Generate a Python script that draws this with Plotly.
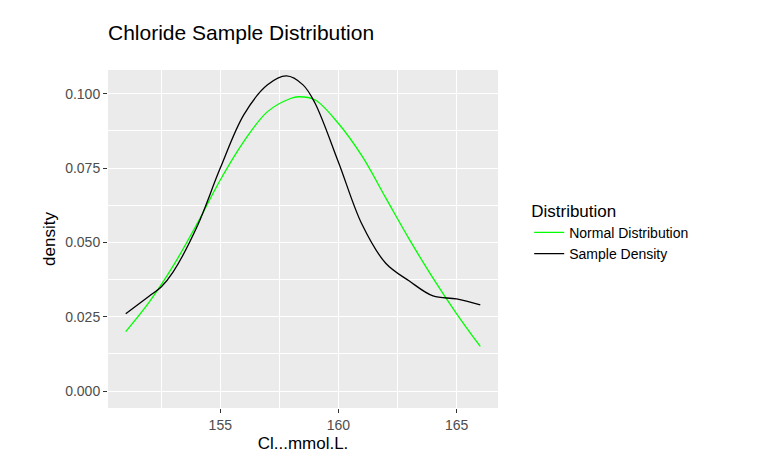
import plotly.graph_objects as go

norm_x = [151, 152, 153, 154, 155, 156, 157, 158, 158.3, 159, 160, 161, 162, 163, 164, 165, 166]
norm_y = [0.020, 0.030, 0.042, 0.056, 0.071, 0.084, 0.094, 0.0985, 0.099, 0.098, 0.090, 0.079, 0.065, 0.051, 0.038, 0.026, 0.015]

samp_x = [151, 152, 152.5, 153, 154, 155, 156, 157, 157.8, 158.5, 159, 160, 161, 162, 163, 164, 165, 166]
samp_y = [0.026, 0.032, 0.035, 0.040, 0.055, 0.075, 0.093, 0.103, 0.106, 0.103, 0.097, 0.077, 0.056, 0.043, 0.037, 0.032, 0.031, 0.029]

fig = go.Figure()
fig.add_trace(go.Scatter(x=norm_x, y=norm_y, mode="lines", name="Normal Distribution",
                         line=dict(color="#00FF00", width=1.3, shape="spline")))
fig.add_trace(go.Scatter(x=samp_x, y=samp_y, mode="lines", name="Sample Density",
                         line=dict(color="black", width=1.3, shape="spline")))

fig.update_layout(
    width=760, height=470,
    margin=dict(l=100, r=270, t=62, b=70, autoexpand=False),
    paper_bgcolor="white", plot_bgcolor="#EBEBEB",
    font=dict(family="Liberation Sans, Arial", color="#4D4D4D", size=14),
    title=dict(text="Chloride Sample Distribution", x=100/760, xanchor="left",
               y=1 - 25/470, yanchor="middle", font=dict(size=21, color="black")),
    legend=dict(title=dict(text="Distribution", font=dict(size=17, color="black")),
                x=1.08, xanchor="left", y=0.52, yanchor="middle",
                font=dict(size=14, color="black"), bgcolor="white"),
    xaxis=dict(range=[150.25, 166.75], tickvals=[155, 160, 165], showgrid=True,
               gridcolor="white", gridwidth=1.3, zeroline=False, automargin=False,
               ticks="outside", ticklen=4, tickcolor="#333333",
               minor=dict(tickvals=[152.5, 157.5, 162.5], showgrid=True, gridcolor="white", gridwidth=0.6),
               title=dict(text="Cl...mmol.L.", font=dict(size=17, color="black"), standoff=5)),
    yaxis=dict(range=[-0.0057, 0.108], tickvals=[0, 0.025, 0.05, 0.075, 0.1],
               ticktext=["0.000", "0.025", "0.050", "0.075", "0.100"],
               showgrid=True, gridcolor="white", gridwidth=1.3, zeroline=False, automargin=False,
               ticks="outside", ticklen=4, tickcolor="#333333",
               minor=dict(tickvals=[0.0125, 0.0375, 0.0625, 0.0875], showgrid=True, gridcolor="white", gridwidth=0.6),
               title=dict(text="density", font=dict(size=17, color="black"), standoff=5)),
)
fig.write_html("out.html")
